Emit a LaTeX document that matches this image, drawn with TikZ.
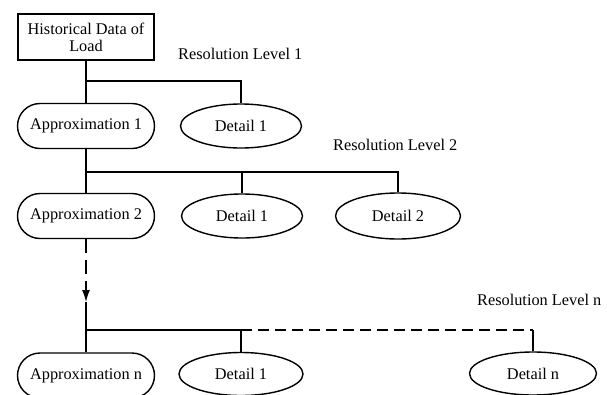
\documentclass[tikz,border=0pt]{standalone}
\usepackage{fontspec}
\setmainfont{Liberation Serif}
\usetikzlibrary{shapes.misc,shapes.geometric,arrows.meta}
\begin{document}
\begin{tikzpicture}[x=1pt,y=-1pt,
  every node/.style={font=\fontsize{16.3}{18}\selectfont, inner sep=0pt},
  link/.style={line width=1.4pt},
  approx/.style={draw, line width=1.4pt, rounded rectangle, minimum width=137pt, minimum height=45pt},
  detail/.style={draw, line width=1.4pt, ellipse, minimum width=122pt, minimum height=44pt},
  histbox/.style={draw, line width=1.4pt, rectangle, minimum width=136pt, minimum height=46pt, align=center},
  lvl/.style={anchor=west},
  hdash/.style={dash pattern=on 11pt off 6pt},
  vdash/.style={dash pattern=on 14pt off 7pt}]
\useasboundingbox (0,0) rectangle (607,394);
\node[histbox] (hist) at (86,37) {Historical Data of\\[-1pt]Load};
\node[approx] (a1) at (86,126) {Approximation 1};
\node[detail, minimum width=121pt] (d1) at (241,126) {Detail 1};
\node[approx] (a2) at (86,216) {Approximation 2};
\node[detail, minimum width=121pt] (d21) at (242,216) {Detail 1};
\node[detail, minimum width=125pt, minimum height=46pt] (d22) at (398,216) {Detail 2};
\node[approx] (an) at (86,375.5) {Approximation n};
\node[detail, minimum width=124pt, minimum height=43pt] (dn1) at (241,374) {Detail 1};
\node[detail, minimum width=127pt, minimum height=43pt] (dnn) at (533,373.5) {Detail n};
\node[lvl] (l1) at (178,54) {Resolution Level 1};
\node[lvl] (l2) at (333,145) {Resolution Level 2};
\node[lvl] (ln) at (477,300) {Resolution Level n};
\coordinate (j1) at (86,81);
\coordinate (j2) at (86,172);
\coordinate (ar) at (86,302);
\coordinate (j3) at (86,330);
\draw[link] (hist.south) -- (a1.north);
\draw[link] (j1) -| (d1.north);
\draw[link] (a1.south) -- (a2.north);
\draw[link] (j2) -- (j2 -| d22.north) -- (d22.north);
\draw[link] (j2 -| d21.north) -- (d21.north);
\draw[link, vdash, -{Latex[length=12pt,width=8pt]}] (a2.south) -- (ar);
\draw[link] (ar) -- (an.north);
\draw[link] (j3) -- (j3 -| dn1.north) -- (dn1.north);
\draw[link, hdash] (j3 -| dn1.north) -- (j3 -| dnn.north);
\draw[link] (j3 -| dnn.north) -- (dnn.north);
\end{tikzpicture}
\end{document}
